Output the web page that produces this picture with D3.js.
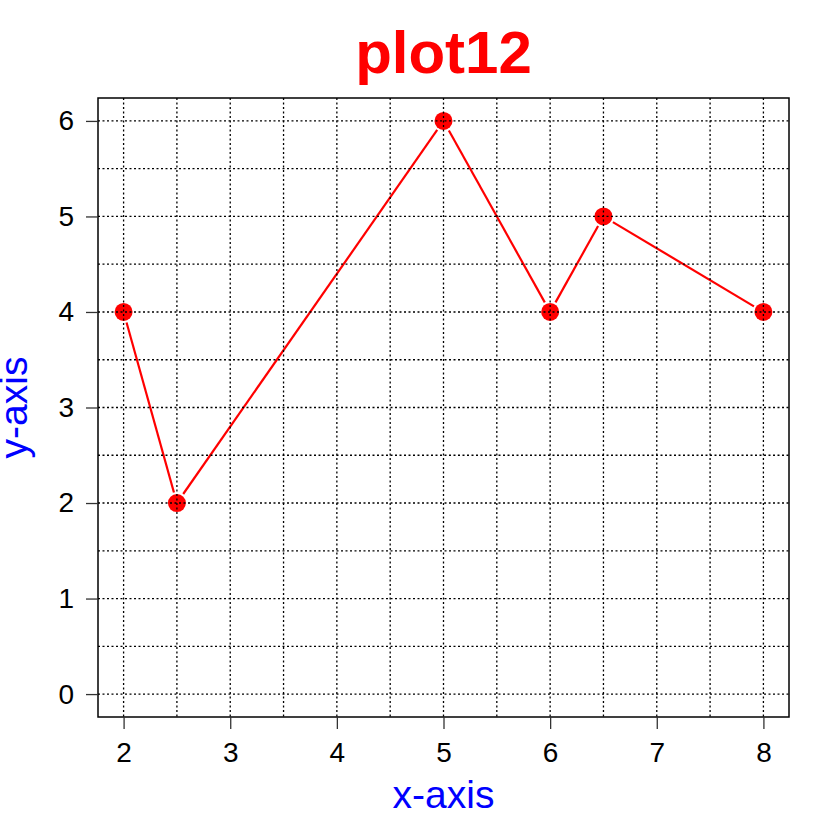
<!DOCTYPE html>
<html>
<head>
<meta charset="utf-8">
<script src="https://cdn.jsdelivr.net/npm/d3@7"></script>
<style>
  body { margin: 0; background: #fff; }
  text { font-family: "Liberation Sans", Arial, sans-serif; }
</style>
</head>
<body>
<svg id="chart" width="840" height="840"></svg>
<script>
// data
var xValues = [2, 2.5, 5, 6, 6.5, 8];
var yValues = [4, 2, 6, 4, 5, 4];
var xTicks = [2, 3, 4, 5, 6, 7, 8];
var yTicks = [0, 1, 2, 3, 4, 5, 6];
var gridX = [2, 2.5, 3, 3.5, 4, 4.5, 5, 5.5, 6, 6.5, 7, 7.5, 8];
var gridY = [0, 0.5, 1, 1.5, 2, 2.5, 3, 3.5, 4, 4.5, 5, 5.5, 6];

// plot box (window.top is reserved, so use other names)
var boxLeft = 98, boxRight = 789, boxTop = 98, boxBottom = 717;

var svg = d3.select('#chart');

// R style: range extended by 4% on each side
var x = d3.scaleLinear().domain([2 - 0.24, 8 + 0.24]).range([boxLeft, boxRight]);
var y = d3.scaleLinear().domain([0 - 0.24, 6 + 0.24]).range([boxBottom, boxTop]);

var pts = xValues.map(function(v, i){ return [x(v), y(yValues[i])]; });

// line segments with gaps at the points (type = "b")
var gap = 11;
var segs = [];
for (var i = 0; i < pts.length - 1; i++) {
    var p = pts[i], q = pts[i+1];
    var dx = q[0] - p[0], dy = q[1] - p[1];
    var len = Math.sqrt(dx*dx + dy*dy);
    if (len <= 2*gap) continue;
    var ux = dx/len, uy = dy/len;
    segs.push([p[0] + ux*gap, p[1] + uy*gap, q[0] - ux*gap, q[1] - uy*gap]);
}
svg.append('g').selectAll('line')
    .data(segs)
    .enter()
    .append('line')
    .attr('x1', d => d[0]).attr('y1', d => d[1])
    .attr('x2', d => d[2]).attr('y2', d => d[3])
    .attr('stroke', '#ff0000')
    .attr('stroke-width', 2.2);

svg.append('g').selectAll('circle')
    .data(pts)
    .enter()
    .append('circle')
    .attr('cx', d => d[0])
    .attr('cy', d => d[1])
    .attr('r', 9)
    .attr('fill', '#ff0000');

// grid, drawn on top
var grid = svg.append('g')
    .attr('stroke', '#000')
    .attr('stroke-width', 1.3)
    .attr('stroke-dasharray', '2,2.5');
grid.selectAll('.gx')
    .data(gridX)
    .enter()
    .append('line')
    .attr('x1', d => x(d)).attr('x2', d => x(d))
    .attr('y1', boxTop).attr('y2', boxBottom);
grid.selectAll('.gy')
    .data(gridY)
    .enter()
    .append('line')
    .attr('y1', d => y(d)).attr('y2', d => y(d))
    .attr('x1', boxLeft).attr('x2', boxRight);

// box
svg.append('rect')
    .attr('x', boxLeft).attr('y', boxTop)
    .attr('width', boxRight - boxLeft).attr('height', boxBottom - boxTop)
    .attr('fill', 'none')
    .attr('stroke', '#000')
    .attr('stroke-width', 1.5);

// axes
var xAxis = d3.axisBottom(x).tickValues(xTicks).tickSize(12).tickPadding(13).tickFormat(d3.format('d'));
var gx = svg.append('g').attr('transform', `translate(0,${boxBottom})`).call(xAxis);
gx.select('.domain').remove();
gx.selectAll('text').attr('font-size', 28).attr('fill', '#000')
    .attr('font-family', '"Liberation Sans", Arial, sans-serif');
gx.selectAll('line').attr('stroke', '#333').attr('stroke-width', 1.3);

var yAxis = d3.axisLeft(y).tickValues(yTicks).tickSize(12).tickPadding(12).tickFormat(d3.format('d'));
var gy = svg.append('g').attr('transform', `translate(${boxLeft},0)`).call(yAxis);
gy.select('.domain').remove();
gy.selectAll('text').attr('font-size', 28).attr('fill', '#000')
    .attr('font-family', '"Liberation Sans", Arial, sans-serif');
gy.selectAll('line').attr('stroke', '#333').attr('stroke-width', 1.3);

// title and axis labels
svg.append('text')
    .attr('x', (boxLeft + boxRight)/2).attr('y', 73)
    .attr('text-anchor', 'middle')
    .attr('font-size', 60)
    .attr('font-weight', 'bold')
    .attr('fill', '#ff0000')
    .text('plot12');

svg.append('text')
    .attr('x', (boxLeft + boxRight)/2).attr('y', 808)
    .attr('text-anchor', 'middle')
    .attr('font-size', 39)
    .attr('fill', '#0000ff')
    .text('x-axis');

svg.append('text')
    .attr('transform', `translate(27,${(boxTop + boxBottom)/2}) rotate(-90)`)
    .attr('text-anchor', 'middle')
    .attr('font-size', 39)
    .attr('fill', '#0000ff')
    .text('y-axis');
</script>
</body>
</html>
